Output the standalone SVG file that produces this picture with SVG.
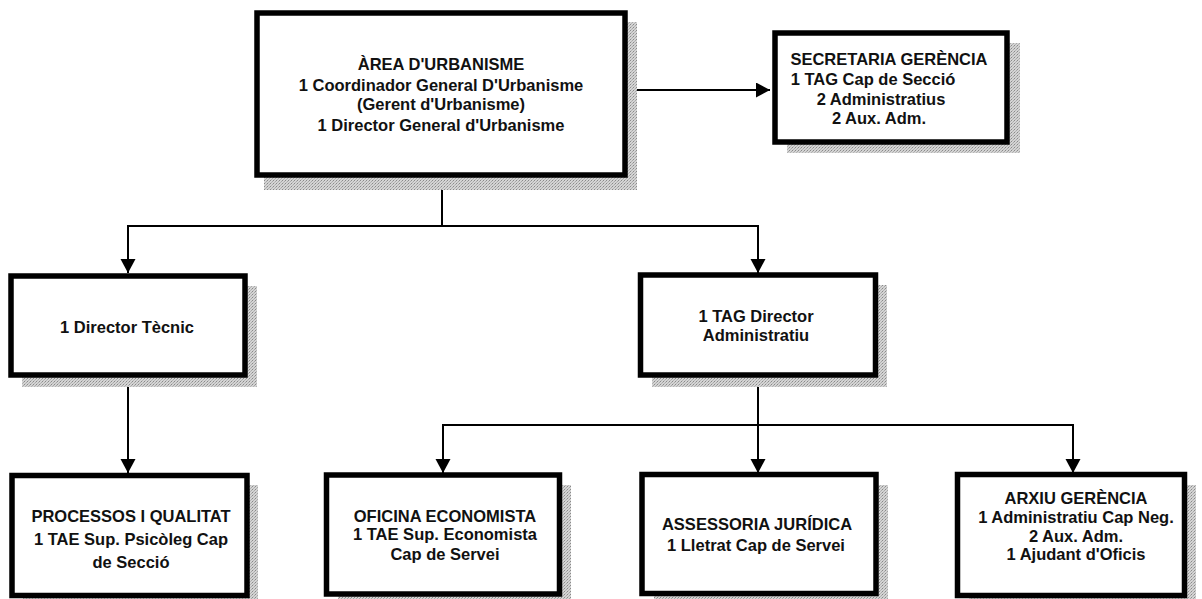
<svg xmlns="http://www.w3.org/2000/svg" width="1202" height="599" viewBox="0 0 1202 599">
<style>
.box{fill:#fff;stroke:#000;stroke-width:5.5}
.sh{fill:url(#ht)}
.t{font-family:"Liberation Sans",Arial,sans-serif;font-weight:bold;font-size:16.5px;fill:#111;text-anchor:middle}
.c{fill:none;stroke:#000;stroke-width:2}
</style>
<defs>
<pattern id="ht" width="3" height="3" patternUnits="userSpaceOnUse">
<rect width="3" height="3" fill="#d4d4d4"/>
<rect x="0" y="0" width="1" height="1" fill="#8a8a8a"/>
<rect x="2" y="1" width="1" height="1" fill="#a8a8a8"/>
<rect x="1" y="2" width="1" height="1" fill="#b4b4b4"/>
</pattern>
<marker id="ah" markerUnits="userSpaceOnUse" markerWidth="16" markerHeight="16" refX="14" refY="7.5" orient="auto">
<path d="M0,0 L14,7.5 L0,15 Z" fill="#000"/>
</marker>
</defs>
<rect width="1202" height="599" fill="#fff"/>

<g id="connectors">
<line class="c" x1="628" y1="90" x2="770" y2="90" marker-end="url(#ah)"/>
<line class="c" x1="442" y1="178" x2="442" y2="226"/>
<polyline class="c" points="128,273 128,226 758,226 758,273" marker-end="url(#ah)"/>
<line class="c" x1="128" y1="226" x2="128" y2="273" marker-end="url(#ah)"/>
<line class="c" x1="128" y1="378" x2="128" y2="473" marker-end="url(#ah)"/>
<line class="c" x1="758" y1="377" x2="758" y2="473" marker-end="url(#ah)"/>
<polyline class="c" points="443,473 443,425 1073,425 1073,473" marker-end="url(#ah)"/>
<line class="c" x1="443" y1="425" x2="443" y2="473" marker-end="url(#ah)"/>
</g>

<g id="area">
<rect class="sh" x="264" y="22" width="373" height="168"/>
<rect class="box" x="257" y="13" width="368" height="162"/>
<text class="t" x="441" y="70">ÀREA D'URBANISME</text>
<text class="t" x="441" y="91">1 Coordinador General D'Urbanisme</text>
<text class="t" x="441" y="110">(Gerent d'Urbanisme)</text>
<text class="t" x="441" y="131">1 Director General d'Urbanisme</text>
</g>

<g id="secretaria">
<rect class="sh" x="787" y="43" width="233" height="110"/>
<rect class="box" x="775" y="33" width="232" height="109"/>
<text class="t" x="889" y="65">SECRETARIA GERÈNCIA</text>
<text class="t" x="873" y="85">1 TAG Cap de Secció</text>
<text class="t" x="881" y="105">2 Administratius</text>
<text class="t" x="879" y="124">2 Aux. Adm.</text>
</g>

<g id="director-tecnic">
<rect class="sh" x="22" y="286" width="235" height="101"/>
<rect class="box" x="11" y="276" width="234" height="99"/>
<text class="t" x="127" y="333">1 Director Tècnic</text>
</g>

<g id="director-administratiu">
<rect class="sh" x="652" y="285" width="235" height="102"/>
<rect class="box" x="640.5" y="275" width="235" height="100"/>
<text class="t" x="756" y="322">1 TAG Director</text>
<text class="t" x="756" y="341">Administratiu</text>
</g>

<g id="processos">
<rect class="sh" x="23" y="485" width="235" height="125"/>
<rect class="box" x="12" y="475.5" width="235" height="120"/>
<text class="t" x="131" y="522">PROCESSOS I QUALITAT</text>
<text class="t" x="131" y="545">1 TAE Sup. Psicòleg Cap</text>
<text class="t" x="131" y="568">de Secció</text>
</g>

<g id="oficina">
<rect class="sh" x="338" y="485" width="233" height="125"/>
<rect class="box" x="326.5" y="475" width="233" height="119"/>
<text class="t" x="445" y="522">OFICINA ECONOMISTA</text>
<text class="t" x="445" y="540">1 TAE Sup. Economista</text>
<text class="t" x="445" y="560">Cap de Servei</text>
</g>

<g id="assessoria">
<rect class="sh" x="654" y="485" width="234" height="125"/>
<rect class="box" x="642" y="474.5" width="234" height="119"/>
<text class="t" x="757" y="530">ASSESSORIA JURÍDICA</text>
<text class="t" x="756" y="551">1 Lletrat Cap de Servei</text>
</g>

<g id="arxiu">
<rect class="sh" x="969" y="485" width="227" height="125"/>
<rect class="box" x="957.5" y="474.5" width="227" height="121"/>
<text class="t" x="1076" y="504">ARXIU GERÈNCIA</text>
<text class="t" x="1076" y="523">1 Administratiu Cap Neg.</text>
<text class="t" x="1076" y="542">2 Aux. Adm.</text>
<text class="t" x="1076" y="560">1 Ajudant d'Oficis</text>
</g>
</svg>
